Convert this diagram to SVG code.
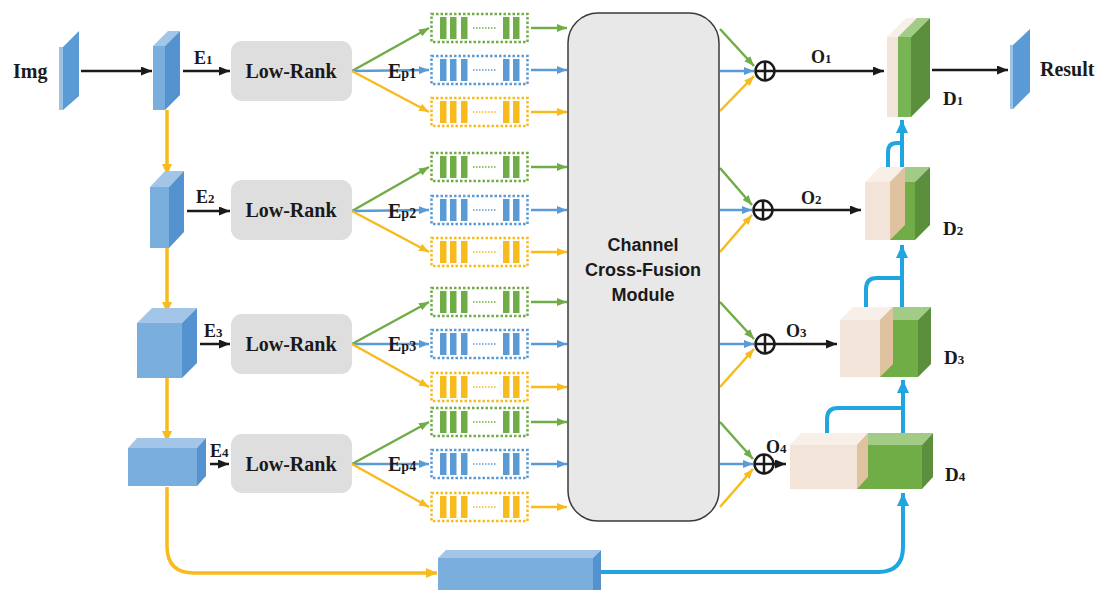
<svg xmlns="http://www.w3.org/2000/svg" width="1110" height="590" viewBox="0 0 1110 590">
<defs>
<style>
.t{font-family:"Liberation Serif","Times New Roman",serif;font-weight:bold;fill:#1a1a1a}
.lrb{fill:#dedede}
.lrt{font-family:"Liberation Serif","Times New Roman",serif;font-weight:bold;font-size:20px;fill:#1a1a1a;text-anchor:middle}
.mod{fill:#e8e8e8;stroke:#3a3a3a;stroke-width:1.5}
.mt{font-family:"Liberation Sans",Arial,sans-serif;font-weight:bold;font-size:18px;fill:#1a1a1a;text-anchor:middle}
.bf{fill:#7aaedd}.btop{fill:#a3c6e8}.bs{fill:#5592d0}.bst{fill:#9cc2e6}
.pf{fill:#f3e4d9}.ptop{fill:#f8efe9}.ps{fill:#dfc29f}
.gf{fill:#70ad47}.gtop{fill:#a2cc86}.gs{fill:#5b8f3c}
.lg{stroke:#70ad47;stroke-width:2.5;fill:none}
.lb{stroke:#5b9bd5;stroke-width:2.5;fill:none}
.ly{stroke:#f7bb1e;stroke-width:2.5;fill:none}
.lk{stroke:#1a1a1a;stroke-width:2.5;fill:none}
.lc{stroke:#1fa6e0;stroke-width:4;fill:none}
.yv{stroke:#f7bb1e;stroke-width:3.5;fill:none}
</style>
<marker id="aG" markerWidth="10" markerHeight="8" refX="10" refY="4" orient="auto" markerUnits="userSpaceOnUse"><path d="M0,0 L10,4 L0,8 z" fill="#70ad47"/></marker>
<marker id="aB" markerWidth="10" markerHeight="8" refX="10" refY="4" orient="auto" markerUnits="userSpaceOnUse"><path d="M0,0 L10,4 L0,8 z" fill="#5b9bd5"/></marker>
<marker id="aY" markerWidth="10" markerHeight="8" refX="10" refY="4" orient="auto" markerUnits="userSpaceOnUse"><path d="M0,0 L10,4 L0,8 z" fill="#f7bb1e"/></marker>
<marker id="aK" markerWidth="11" markerHeight="9" refX="11" refY="4.5" orient="auto" markerUnits="userSpaceOnUse"><path d="M0,0 L11,4.5 L0,9 z" fill="#1a1a1a"/></marker>
<marker id="aC" markerWidth="13" markerHeight="12" refX="13" refY="6" orient="auto" markerUnits="userSpaceOnUse"><path d="M0,0 L13,6 L0,12 z" fill="#1fa6e0"/></marker>
<marker id="aYv" markerWidth="11" markerHeight="10" refX="11" refY="5" orient="auto" markerUnits="userSpaceOnUse"><path d="M0,0 L11,5 L0,10 z" fill="#f7bb1e"/></marker>
<g id="tokG">
<rect x="1.5" y="1.5" width="96" height="28" fill="none" stroke="#70ad47" stroke-width="2.5" stroke-dasharray="2.5 2"/>
<rect x="10" y="4.5" width="6.5" height="22" fill="#70ad47"/><rect x="20" y="4.5" width="6.5" height="22" fill="#70ad47"/><rect x="31" y="4.5" width="6.5" height="22" fill="#70ad47"/>
<rect x="73" y="4.5" width="6.5" height="22" fill="#70ad47"/><rect x="83" y="4.5" width="6.5" height="22" fill="#70ad47"/>
<line x1="43" y1="15.5" x2="66" y2="15.5" stroke="#70ad47" stroke-width="1.5" stroke-dasharray="1.5 1.5"/>
</g>
<g id="tokB">
<rect x="1.5" y="1.5" width="96" height="28" fill="none" stroke="#5b9bd5" stroke-width="2.5" stroke-dasharray="2.5 2"/>
<rect x="10" y="4.5" width="6.5" height="22" fill="#5b9bd5"/><rect x="20" y="4.5" width="6.5" height="22" fill="#5b9bd5"/><rect x="31" y="4.5" width="6.5" height="22" fill="#5b9bd5"/>
<rect x="73" y="4.5" width="6.5" height="22" fill="#5b9bd5"/><rect x="83" y="4.5" width="6.5" height="22" fill="#5b9bd5"/>
<line x1="43" y1="15.5" x2="66" y2="15.5" stroke="#5b9bd5" stroke-width="1.5" stroke-dasharray="1.5 1.5"/>
</g>
<g id="tokY">
<rect x="1.5" y="1.5" width="96" height="28" fill="none" stroke="#f7bb1e" stroke-width="2.5" stroke-dasharray="2.5 2"/>
<rect x="10" y="4.5" width="6.5" height="22" fill="#f7bb1e"/><rect x="20" y="4.5" width="6.5" height="22" fill="#f7bb1e"/><rect x="31" y="4.5" width="6.5" height="22" fill="#f7bb1e"/>
<rect x="73" y="4.5" width="6.5" height="22" fill="#f7bb1e"/><rect x="83" y="4.5" width="6.5" height="22" fill="#f7bb1e"/>
<line x1="43" y1="15.5" x2="66" y2="15.5" stroke="#f7bb1e" stroke-width="1.5" stroke-dasharray="1.5 1.5"/>
</g>
<g id="oplus">
<circle cx="0" cy="0" r="9.5" fill="#fff" stroke="#1a1a1a" stroke-width="2.5"/>
<path d="M-9.5,0 H9.5 M0,-9.5 V9.5" stroke="#1a1a1a" stroke-width="2.5"/>
</g>
</defs>
<rect width="1110" height="590" fill="#fff"/>

<g id="connectors">
<path class="lk" d="M81,71 H152" marker-end="url(#aK)"/>
<path class="lk" d="M183,71 H230" marker-end="url(#aK)"/>
<path class="lk" d="M187,211 H230" marker-end="url(#aK)"/>
<path class="lk" d="M200,344 H230" marker-end="url(#aK)"/>
<path class="lk" d="M210,464 H229" marker-end="url(#aK)"/>
<path class="lk" d="M775,71 H884" marker-end="url(#aK)"/>
<path class="lk" d="M773,210 H861" marker-end="url(#aK)"/>
<path class="lk" d="M775,344 H837" marker-end="url(#aK)"/>
<path class="lk" d="M774,464 H786" marker-end="url(#aK)"/>
<path class="lk" d="M932,70 H1008" marker-end="url(#aK)"/>
<path class="yv" d="M167,110 V175" marker-end="url(#aYv)"/>
<path class="yv" d="M167,248 V313" marker-end="url(#aYv)"/>
<path class="yv" d="M167,378 V442" marker-end="url(#aYv)"/>
<path class="yv" d="M167,487 V546 Q167,573 194,573 H437" marker-end="url(#aYv)"/>
<path class="lg" d="M352,71 L429,28" marker-end="url(#aG)"/>
<path class="lb" d="M352,71 L429,70" marker-end="url(#aB)"/>
<path class="ly" d="M352,71 L429,112" marker-end="url(#aY)"/>
<path class="lg" d="M352,211 L429,167" marker-end="url(#aG)"/>
<path class="lb" d="M352,211 L429,210" marker-end="url(#aB)"/>
<path class="ly" d="M352,211 L429,252" marker-end="url(#aY)"/>
<path class="lg" d="M352,344 L429,302" marker-end="url(#aG)"/>
<path class="lb" d="M352,344 L429,344" marker-end="url(#aB)"/>
<path class="ly" d="M352,344 L429,387" marker-end="url(#aY)"/>
<path class="lg" d="M352,464 L429,422" marker-end="url(#aG)"/>
<path class="lb" d="M352,464 L429,464" marker-end="url(#aB)"/>
<path class="ly" d="M352,464 L429,507" marker-end="url(#aY)"/>
<path class="lg" d="M531,28 H567" marker-end="url(#aG)"/>
<path class="lb" d="M531,70 H567" marker-end="url(#aB)"/>
<path class="ly" d="M531,112 H567" marker-end="url(#aY)"/>
<path class="lg" d="M531,167 H567" marker-end="url(#aG)"/>
<path class="lb" d="M531,210 H567" marker-end="url(#aB)"/>
<path class="ly" d="M531,252 H567" marker-end="url(#aY)"/>
<path class="lg" d="M531,302 H567" marker-end="url(#aG)"/>
<path class="lb" d="M531,344 H567" marker-end="url(#aB)"/>
<path class="ly" d="M531,387 H567" marker-end="url(#aY)"/>
<path class="lg" d="M531,422 H567" marker-end="url(#aG)"/>
<path class="lb" d="M531,464 H567" marker-end="url(#aB)"/>
<path class="ly" d="M531,507 H567" marker-end="url(#aY)"/>
<path class="lg" d="M720,29 L754,66" marker-end="url(#aG)"/>
<path class="lb" d="M720,71 H754" marker-end="url(#aB)"/>
<path class="ly" d="M720,111 L754,76" marker-end="url(#aY)"/>
<path class="lg" d="M720,168 L752,205" marker-end="url(#aG)"/>
<path class="lb" d="M720,210 H752" marker-end="url(#aB)"/>
<path class="ly" d="M720,252 L752,215" marker-end="url(#aY)"/>
<path class="lg" d="M720,302 L754,339" marker-end="url(#aG)"/>
<path class="lb" d="M720,344 H754" marker-end="url(#aB)"/>
<path class="ly" d="M720,387 L754,349" marker-end="url(#aY)"/>
<path class="lg" d="M720,422 L753,459" marker-end="url(#aG)"/>
<path class="lb" d="M720,464 H753" marker-end="url(#aB)"/>
<path class="ly" d="M720,507 L753,469" marker-end="url(#aY)"/>
<path class="lc" d="M601,572 H878 Q903,572 903,547 V493" marker-end="url(#aC)"/>
<path class="lc" d="M903,440 V380" marker-end="url(#aC)"/>
<path class="lc" d="M827,440 V419 Q827,408 838,408 H903"/>
<path class="lc" d="M902,312 V245" marker-end="url(#aC)"/>
<path class="lc" d="M866,312 V289 Q866,278 877,278 H902"/>
<path class="lc" d="M902,172 V120" marker-end="url(#aC)"/>
<path class="lc" d="M888,180 V152 Q888,143 897,143 H902"/>
</g>

<g id="img">
<text class="t" x="13" y="78" font-size="20">Img</text>
<rect x="59" y="47" width="4" height="63" class="bst"/>
<polygon points="63,47 79,31 79,96 63,110" fill="#5b9bd5"/>
</g>

<g id="e1block">
<rect x="153" y="46" width="12" height="64" class="bf"/>
<polygon points="153,46 168,31 180,31 165,46" class="btop"/>
<polygon points="165,46 180,31 180,95 165,110" class="bs"/>
<text class="t" x="194" y="64" font-size="18">E<tspan font-size="13">1</tspan></text>
</g>
<g id="e2block">
<rect x="150" y="187" width="19" height="61" class="bf"/>
<polygon points="150,187 165,171 184,171 169,187" class="btop"/>
<polygon points="169,187 184,171 184,232 169,248" class="bs"/>
<text class="t" x="196" y="203" font-size="18">E<tspan font-size="13">2</tspan></text>
</g>
<g id="e3block">
<rect x="137" y="323" width="45" height="55" class="bf"/>
<polygon points="137,323 152,308 197,308 182,323" class="btop"/>
<polygon points="182,323 197,308 197,363 182,378" class="bs"/>
<text class="t" x="204" y="337" font-size="18">E<tspan font-size="13">3</tspan></text>
</g>
<g id="e4block">
<rect x="128" y="448" width="69" height="38" class="bf"/>
<polygon points="128,448 137,438 206,438 197,448" class="btop"/>
<polygon points="197,448 206,438 206,476 197,486" class="bs"/>
<text class="t" x="210" y="457" font-size="18">E<tspan font-size="13">4</tspan></text>
</g>

<g id="lowrank1"><rect class="lrb" x="231" y="41" width="121" height="60" rx="11"/><text class="lrt" x="291" y="78">Low-Rank</text></g>
<g id="lowrank2"><rect class="lrb" x="231" y="180" width="121" height="60" rx="11"/><text class="lrt" x="291" y="217">Low-Rank</text></g>
<g id="lowrank3"><rect class="lrb" x="231" y="314" width="121" height="60" rx="11"/><text class="lrt" x="291" y="351">Low-Rank</text></g>
<g id="lowrank4"><rect class="lrb" x="231" y="434" width="121" height="59" rx="11"/><text class="lrt" x="291" y="471">Low-Rank</text></g>

<g id="ep-labels">
<text class="t" x="388" y="78" font-size="20">E<tspan font-size="14">p1</tspan></text>
<text class="t" x="388" y="218" font-size="20">E<tspan font-size="14">p2</tspan></text>
<text class="t" x="388" y="351" font-size="20">E<tspan font-size="14">p3</tspan></text>
<text class="t" x="388" y="471" font-size="20">E<tspan font-size="14">p4</tspan></text>
</g>

<g id="tokens1"><use href="#tokG" x="430" y="12.5"/><use href="#tokB" x="430" y="54.5"/><use href="#tokY" x="430" y="96.5"/></g>
<g id="tokens2"><use href="#tokG" x="430" y="151.5"/><use href="#tokB" x="430" y="194.5"/><use href="#tokY" x="430" y="236.5"/></g>
<g id="tokens3"><use href="#tokG" x="430" y="286.5"/><use href="#tokB" x="430" y="328.5"/><use href="#tokY" x="430" y="371.5"/></g>
<g id="tokens4"><use href="#tokG" x="430" y="406.5"/><use href="#tokB" x="430" y="448.5"/><use href="#tokY" x="430" y="491.5"/></g>

<g id="ccf">
<rect class="mod" x="568" y="13" width="151" height="508" rx="30"/>
<text class="mt" x="643" y="251">Channel</text>
<text class="mt" x="643" y="276">Cross-Fusion</text>
<text class="mt" x="643" y="301">Module</text>
</g>

<g id="sum1"><use href="#oplus" x="765" y="71"/><text class="t" x="811" y="63" font-size="18">O<tspan font-size="13">1</tspan></text></g>
<g id="sum2"><use href="#oplus" x="763" y="210"/><text class="t" x="801" y="204" font-size="18">O<tspan font-size="13">2</tspan></text></g>
<g id="sum3"><use href="#oplus" x="765" y="344"/><text class="t" x="786" y="337" font-size="18">O<tspan font-size="13">3</tspan></text></g>
<g id="sum4"><use href="#oplus" x="764" y="464"/><text class="t" x="766" y="453" font-size="18">O<tspan font-size="13">4</tspan></text></g>

<g id="d1">
<rect x="887" y="37" width="11" height="80" class="pf"/>
<polygon points="887,37 906,18 917,18 898,37" class="ptop"/>
<rect x="898" y="37" width="13" height="80" fill="#79b454"/>
<polygon points="898,37 917,18 930,18 911,37" class="gtop"/>
<polygon points="911,37 930,18 930,98 911,117" class="gs"/>
<text class="t" x="943" y="105" font-size="19">D<tspan font-size="13">1</tspan></text>
</g>
<g id="d2">
<rect x="890" y="182" width="25" height="58" class="gf"/>
<polygon points="890,182 905,167 930,167 915,182" class="gtop"/>
<polygon points="915,182 930,167 930,225 915,240" class="gs"/>
<rect x="865" y="182" width="25" height="58" class="pf"/>
<polygon points="865,182 880,167 905,167 890,182" class="ptop"/>
<polygon points="890,182 905,167 905,225 890,240" class="ps"/>
<text class="t" x="943" y="235" font-size="19">D<tspan font-size="13">2</tspan></text>
</g>
<g id="d3">
<rect x="880" y="320" width="38" height="57" class="gf"/>
<polygon points="880,320 893,307 931,307 918,320" class="gtop"/>
<polygon points="918,320 931,307 931,364 918,377" class="gs"/>
<rect x="840" y="320" width="40" height="57" class="pf"/>
<polygon points="840,320 853,307 893,307 880,320" class="ptop"/>
<polygon points="880,320 893,307 893,364 880,377" class="ps"/>
<text class="t" x="944" y="364" font-size="19">D<tspan font-size="13">3</tspan></text>
</g>
<g id="d4">
<rect x="857" y="445" width="65" height="44" class="gf"/>
<polygon points="857,445 868,433 933,433 922,445" class="gtop"/>
<polygon points="922,445 933,433 933,477 922,489" class="gs"/>
<rect x="790" y="445" width="67" height="44" class="pf"/>
<polygon points="790,445 801,433 868,433 857,445" class="ptop"/>
<polygon points="857,445 868,433 868,477 857,489" class="ps"/>
<text class="t" x="945" y="481" font-size="19">D<tspan font-size="13">4</tspan></text>
</g>

<g id="bottleneck">
<rect x="438" y="558" width="155" height="34" class="bf"/>
<polygon points="438,558 446,550 601,550 593,558" class="btop"/>
<polygon points="593,558 601,550 601,590 593,598" class="bs"/>
</g>

<g id="result">
<rect x="1010" y="45" width="3" height="64" class="bst"/>
<polygon points="1013,45 1030,29 1030,92 1013,109" fill="#5b9bd5"/>
<text class="t" x="1040" y="76" font-size="20">Result</text>
</g>
</svg>
